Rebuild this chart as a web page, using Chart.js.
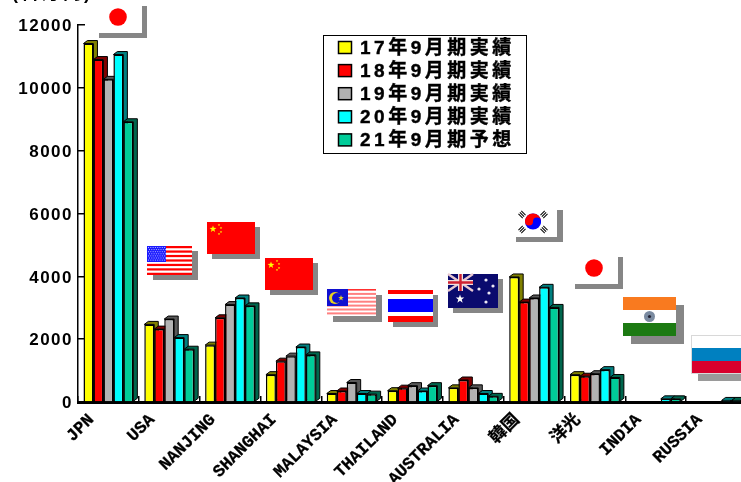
<!DOCTYPE html>
<html>
<head>
<meta charset="utf-8">
<title>Sales by region</title>
<script src="https://cdn.jsdelivr.net/npm/chart.js@4/dist/chart.umd.min.js"></script>
<style>
  html, body { margin: 0; padding: 0; background: #fff; overflow: hidden; }
  canvas { display: block; }
</style>
</head>
<body>
<canvas id="salesChart" width="760" height="482"></canvas>
<script>
const categories = ['JPN', 'USA', 'NANJING', 'SHANGHAI', 'MALAYSIA', 'THAILAND', 'AUSTRALIA', '韓国', '洋光', 'INDIA', 'RUSSIA'];
const seriesNames = ['17年9月期実績', '18年9月期実績', '19年9月期実績', '20年9月期実績', '21年9月期予想'];
const fy17 = [11410, 2470, 1810, 870, 270, 360, 450, 3980, 870, 0, 0];
const fy18 = [10900, 2320, 2680, 1300, 350, 440, 700, 3180, 820, 0, 0];
const fy19 = [10270, 2640, 3100, 1460, 620, 520, 450, 3310, 900, 0, 0];
const fy20 = [11060, 2050, 3310, 1750, 270, 350, 270, 3650, 1030, 100, 50];
const fy21 = [8920, 1680, 3060, 1500, 250, 520, 180, 3010, 780, 100, 50];
const yTicks = [0, 2000, 4000, 6000, 8000, 10000, 12000];

const seriesValues = [fy17, fy18, fy19, fy20, fy21];
const frontColors = ['#ffff00', '#ff0000', '#b2b2b2', '#00ffff', '#00cc99'];
const sideColors = ['#808000', '#800000', '#595959', '#008080', '#00664d'];

const MONO = '"Liberation Mono", "Noto Sans CJK JP", monospace';
const GOTHIC = '"Liberation Sans", "Noto Sans CJK JP", sans-serif';
const DEPTH_X = 4;
const DEPTH_Y = 3;

// extruded top and side of one bar, painted just before its front face
function drawDepth(ctx, bar, seriesIndex) {
  const p = bar.getProps(['x', 'y', 'base', 'width'], true);
  if (p.base - p.y < 0.5) return;
  const l = p.x - p.width / 2;
  const r = p.x + p.width / 2;
  ctx.fillStyle = sideColors[seriesIndex];
  ctx.strokeStyle = '#000';
  ctx.lineWidth = 1;
  ctx.beginPath();
  ctx.moveTo(l, p.y);
  ctx.lineTo(l + DEPTH_X, p.y - DEPTH_Y);
  ctx.lineTo(r + DEPTH_X, p.y - DEPTH_Y);
  ctx.lineTo(r + DEPTH_X, p.base - DEPTH_Y);
  ctx.lineTo(r, p.base);
  ctx.lineTo(r, p.y);
  ctx.closePath();
  ctx.fill();
  ctx.stroke();
}

// paint series left to right so each group overlaps the side of the one before
const barDepth = {
  id: 'barDepth',
  beforeDatasetsDraw(chart) {
    const ctx = chart.ctx;
    seriesValues.forEach((values, i) => {
      const meta = chart.getDatasetMeta(i);
      ctx.save();
      meta.data.forEach((bar) => drawDepth(ctx, bar, i));
      ctx.restore();
      meta.controller.draw();
    });
    return false;
  }
};

// boxed series key in the upper middle of the plot
const seriesKey = {
  id: 'seriesKey',
  afterDraw(chart) {
    const ctx = chart.ctx;
    ctx.save();
    ctx.fillStyle = '#fff';
    ctx.fillRect(323.5, 35.5, 203, 118);
    ctx.strokeStyle = '#000';
    ctx.lineWidth = 1;
    ctx.strokeRect(323.5, 35.5, 203, 118);
    ctx.textBaseline = 'middle';
    ctx.textAlign = 'left';
    ctx.font = 'bold 19px ' + GOTHIC;
    ctx.letterSpacing = '3.5px';
    seriesNames.forEach((name, i) => {
      const cy = 47.5 + i * 23.1;
      ctx.fillStyle = frontColors[i];
      ctx.lineWidth = 1.5;
      ctx.fillRect(338.5, cy - 6, 13, 12);
      ctx.strokeRect(338.5, cy - 6, 13, 12);
      ctx.fillStyle = '#000';
      ctx.lineWidth = 0.4;
      ctx.fillText(name, 360, cy + 1);
      ctx.strokeText(name, 360, cy + 1);
    });
    ctx.restore();
  }
};

function shadowed(ctx, x, y, w, h, dx, dy, shade) {
  ctx.fillStyle = shade || '#868686';
  ctx.fillRect(x + dx, y + dy, w, h);
  ctx.fillStyle = '#fff';
  ctx.fillRect(x, y, w, h);
}

function star(ctx, cx, cy, r, color) {
  ctx.fillStyle = color;
  ctx.beginPath();
  for (let i = 0; i < 10; i++) {
    const rad = i % 2 ? r * 0.4 : r;
    const a = -Math.PI / 2 + i * Math.PI / 5;
    ctx.lineTo(cx + rad * Math.cos(a), cy + rad * Math.sin(a));
  }
  ctx.closePath();
  ctx.fill();
}

function disc(ctx, cx, cy, r, color) {
  ctx.fillStyle = color;
  ctx.beginPath();
  ctx.arc(cx, cy, r, 0, Math.PI * 2);
  ctx.fill();
}

function flagJapan(ctx, x, y) {
  shadowed(ctx, x, y, 48, 32, 5, 5);
  disc(ctx, x + 24, y + 16, 8.8, '#ff0000');
}

function flagChina(ctx, x, y) {
  shadowed(ctx, x, y, 48, 32, 5, 5);
  ctx.fillStyle = '#ff0000';
  ctx.fillRect(x, y, 48, 32);
  star(ctx, x + 6, y + 7, 3.6, '#ffff00');
  [[12, 3], [14, 6], [14, 10], [12, 12]].forEach((s) => star(ctx, x + s[0], y + s[1], 1.3, '#ffff00'));
}

function flagUsa(ctx, x, y) {
  shadowed(ctx, x, y, 45, 29, 6, 5);
  ctx.fillStyle = '#ff0000';
  for (let i = 0; i < 7; i++) ctx.fillRect(x, y + i * 4.46, 45, 2.23);
  ctx.fillStyle = '#1a1aff';
  ctx.fillRect(x, y, 19, 16);
  ctx.fillStyle = '#b8b8ff';
  for (let r = 0; r < 7; r++) {
    for (let c = 0; c < 8; c++) ctx.fillRect(x + 1 + c * 2.3 + (r % 2), y + 1 + r * 2.1, 1, 1);
  }
}

function flagMalaysia(ctx, x, y) {
  shadowed(ctx, x, y, 49, 27, 6, 6);
  ctx.fillStyle = '#ff8080';
  for (let i = 0; i < 7; i++) ctx.fillRect(x, y + i * 3.9, 49, 2);
  ctx.fillStyle = '#ff3030';
  ctx.fillRect(x, y, 49, 1);
  ctx.fillStyle = '#1010d0';
  ctx.fillRect(x, y, 21, 17);
  disc(ctx, x + 8, y + 9, 6, '#e8d020');
  disc(ctx, x + 10, y + 9, 5, '#1010d0');
  star(ctx, x + 14, y + 9, 3, '#e8d020');
}

function flagThailand(ctx, x, y) {
  shadowed(ctx, x, y, 45, 32, 5, 5);
  ctx.fillStyle = '#ff0000';
  ctx.fillRect(x, y, 45, 4);
  ctx.fillRect(x, y + 26, 45, 6);
  ctx.fillStyle = '#0000ff';
  ctx.fillRect(x, y + 9, 45, 13);
}

function flagAustralia(ctx, x, y) {
  shadowed(ctx, x, y, 50, 34, 5, 5);
  ctx.fillStyle = '#0a0a6e';
  ctx.fillRect(x, y, 50, 34);
  ctx.strokeStyle = '#e8c8d0';
  ctx.lineWidth = 2.4;
  ctx.beginPath();
  ctx.moveTo(x, y);
  ctx.lineTo(x + 25, y + 17);
  ctx.moveTo(x + 25, y);
  ctx.lineTo(x, y + 17);
  ctx.stroke();
  ctx.strokeStyle = '#f0e0e0';
  ctx.lineWidth = 5;
  ctx.beginPath();
  ctx.moveTo(x + 12.5, y);
  ctx.lineTo(x + 12.5, y + 17);
  ctx.moveTo(x, y + 8.5);
  ctx.lineTo(x + 25, y + 8.5);
  ctx.stroke();
  ctx.strokeStyle = '#d02030';
  ctx.lineWidth = 2.4;
  ctx.stroke();
  star(ctx, x + 12, y + 25, 4.5, '#ffffff');
  [[38, 6], [31, 15], [45, 12], [38, 28], [41, 19]].forEach((s) => disc(ctx, x + s[0], y + s[1], 1.6, '#ece8f4'));
}

function flagKorea(ctx, x, y) {
  shadowed(ctx, x, y, 47, 32, 6, 5);
  const cx = x + 23;
  const cy = y + 16.5;
  disc(ctx, cx, cy, 8, '#0000ff');
  ctx.fillStyle = '#ff0000';
  ctx.beginPath();
  ctx.arc(cx, cy, 8, Math.PI, 0);
  ctx.fill();
  disc(ctx, cx - 4, cy, 4, '#ff0000');
  disc(ctx, cx + 4, cy, 4, '#0000ff');
  ctx.strokeStyle = '#000';
  ctx.lineWidth = 1;
  [[-11, -7, 1], [11, -7, -1], [-11, 8, -1], [11, 8, 1]].forEach((t) => {
    ctx.save();
    ctx.translate(cx + t[0], cy + t[1]);
    ctx.rotate(t[2] * Math.PI / 4);
    for (let b = -1; b <= 1; b++) {
      ctx.beginPath();
      ctx.moveTo(-3, b * 2);
      ctx.lineTo(3, b * 2);
      ctx.stroke();
    }
    ctx.restore();
  });
}

function flagIndia(ctx, x, y) {
  shadowed(ctx, x, y, 53, 39, 8, 8);
  ctx.fillStyle = '#f97a1f';
  ctx.fillRect(x, y, 53, 13);
  ctx.fillStyle = '#1c7a12';
  ctx.fillRect(x, y + 26, 53, 13);
  disc(ctx, x + 26.5, y + 19.5, 5.5, '#7a8aa0');
  disc(ctx, x + 26.5, y + 19.5, 1.6, '#223');
}

function flagRussia(ctx, x, y) {
  shadowed(ctx, x, y, 56, 39, 7, 7, '#9a9a9a');
  ctx.fillStyle = '#0080c0';
  ctx.fillRect(x, y + 13, 56, 13);
  ctx.fillStyle = '#d8002c';
  ctx.fillRect(x, y + 26, 56, 13);
  ctx.strokeStyle = '#d8d8d8';
  ctx.lineWidth = 1;
  ctx.strokeRect(x + 0.5, y + 0.5, 55, 38);
}

// region flags floating above each bar group, plus the unit caption
const regionFlags = {
  id: 'regionFlags',
  afterDraw(chart) {
    const ctx = chart.ctx;
    ctx.save();
    flagJapan(ctx, 94, 1);
    flagUsa(ctx, 147, 246);
    flagChina(ctx, 207, 222);
    flagChina(ctx, 265, 258);
    flagMalaysia(ctx, 327, 289);
    flagThailand(ctx, 388, 290);
    flagAustralia(ctx, 448, 274);
    flagKorea(ctx, 510, 205);
    flagJapan(ctx, 570, 252);
    flagIndia(ctx, 623, 297);
    flagRussia(ctx, 691, 335);
    ctx.fillStyle = '#000';
    ctx.font = 'bold 18px ' + GOTHIC;
    ctx.textAlign = 'left';
    ctx.textBaseline = 'alphabetic';
    ctx.letterSpacing = '3px';
    ctx.fillText('(百万円)', 12, -1);
    ctx.restore();
  }
};

const ctx = document.getElementById('salesChart').getContext('2d');
const salesChart = new Chart(ctx, {
  type: 'bar',
  data: {
    labels: categories,
    datasets: seriesValues.map((values, i) => ({
      label: seriesNames[i],
      data: values,
      backgroundColor: frontColors[i],
      borderColor: '#000',
      borderWidth: 1.5,
      borderSkipped: 'bottom',
      categoryPercentage: 0.82,
      barPercentage: 1
    }))
  },
  plugins: [barDepth, seriesKey, regionFlags],
  options: {
    responsive: false,
    animation: false,
    // the last group runs past the right edge of the window
    layout: { padding: { top: 25, right: 13, left: 0, bottom: 0 } },
    plugins: {
      legend: { display: false },
      tooltip: { enabled: false }
    },
    scales: {
      x: {
        afterFit(scale) { scale.height = 80; },
        border: { color: '#000', width: 3 },
        grid: { drawOnChartArea: false, color: '#000', lineWidth: 1.5, tickLength: -6 },
        ticks: {
          autoSkip: false,
          minRotation: 45,
          maxRotation: 45,
          labelOffset: -17,
          padding: 14,
          color: '#000',
          textStrokeColor: '#000',
          textStrokeWidth: 0.3,
          font: { family: MONO, weight: 'bold', size: 17 }
        }
      },
      y: {
        min: yTicks[0],
        max: yTicks[yTicks.length - 1],
        afterFit(scale) {
          scale.width = 78;
          // spread the digits a little on this axis only
          const drawLabels = scale.drawLabels;
          scale.drawLabels = function () {
            scale.ctx.letterSpacing = '1.5px';
            drawLabels.apply(scale, arguments);
            scale.ctx.letterSpacing = '0px';
          };
        },
        afterBuildTicks(scale) { scale.ticks = yTicks.map((v) => ({ value: v })); },
        border: { color: '#000', width: 1.5 },
        grid: { drawOnChartArea: false, color: '#000', lineWidth: 1.5, tickLength: -7 },
        ticks: {
          padding: 12,
          labelOffset: 1.5,
          color: '#000',
          callback: (v) => String(v),
          font: { family: GOTHIC, weight: 'bold', size: 17 }
        }
      }
    }
  }
});
</script>
</body>
</html>
